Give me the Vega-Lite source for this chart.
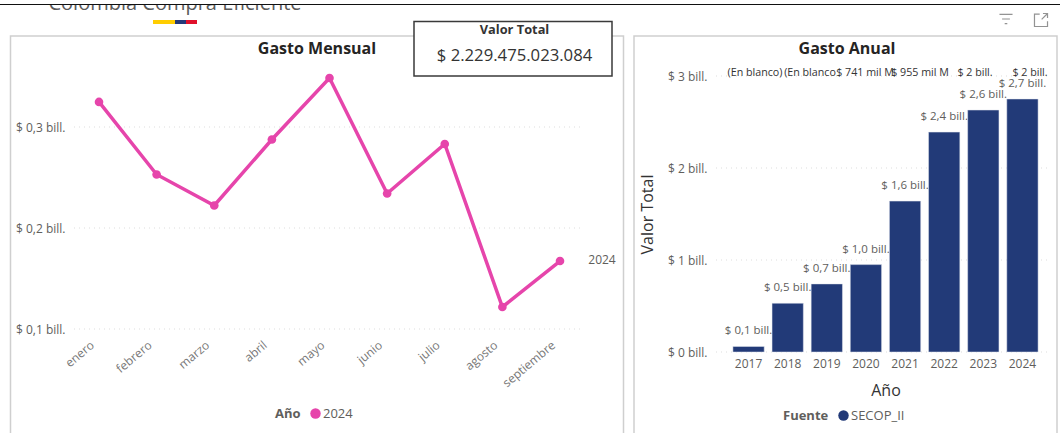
{
"$schema":"https://vega.github.io/schema/vega-lite/v6.json",
"width":1060,"height":433,"padding":0,"autosize":"none","background":"white",
"config":{"font":"Open Sans","view":{"stroke":null}},
"resolve":{"scale":{"x":"independent","y":"independent","color":"independent"},"axis":{"x":"independent","y":"independent"}},
"layer":[
{"data":{"values":[{"elemento":"Colombia Compra Eficiente"}]},
 "mark":{"type":"text","fontSize":20,"color":"#5A5A5A","align":"center","baseline":"alphabetic"},
 "encoding":{"text":{"field":"elemento"},"x":{"datum":0,"scale":{"domain":[0,1],"range":[175,1000]},"axis":null},"y":{"datum":0,"scale":{"domain":[0,1],"range":[10,100]},"axis":null}}},
{"data":{"values":[{"elemento":"franja"}]},
 "mark":{"type":"rect","fill":"white"},
 "encoding":{"x":{"datum":0,"scale":{"domain":[0,1],"range":[0,1060]},"axis":null},"x2":{"datum":1},"y":{"datum":0,"scale":{"domain":[0,1],"range":[0,4]},"axis":null},"y2":{"datum":1}}},
{"data":{"values":[{"elemento":"linea"}]},
 "mark":{"type":"rule","color":"#111111","strokeWidth":1},
 "encoding":{"x":{"datum":0,"scale":{"domain":[0,1],"range":[0,1060]},"axis":null},"x2":{"datum":1},"y":{"datum":0,"scale":{"domain":[0,1],"range":[4.5,100]},"axis":null}}},
{"data":{"values":[{"color":"amarillo","parte":2},{"color":"azul","parte":1},{"color":"rojo","parte":1}]},
 "transform":[{"stack":"parte","groupby":[],"sort":[{"field":"color"}],"as":["inicio","fin"]}],
 "mark":{"type":"rect"},
 "encoding":{"x":{"field":"inicio","type":"quantitative","scale":{"domain":[0,4],"range":[153,197]},"axis":null},"x2":{"field":"fin"},"y":{"datum":0,"scale":{"domain":[0,1],"range":[20,24]},"axis":null},"y2":{"datum":1},"color":{"field":"color","type":"nominal","scale":{"domain":["amarillo","azul","rojo"],"range":["#FFCD00","#24397A","#E0112B"]},"legend":null}}},
{"data":{"values":[{"elemento":"filtro"}]},
 "mark":{"type":"point","shape":"M-1,-0.7H1M-0.6,0H0.6M-0.2,0.7H0.2","size":170,"filled":false,"stroke":"#666666","strokeWidth":1.2},
 "encoding":{"x":{"datum":0,"scale":{"domain":[0,1],"range":[1006,1100]},"axis":null},"y":{"datum":0,"scale":{"domain":[0,1],"range":[19,100]},"axis":null}}},
{"data":{"values":[{"elemento":"expandir"}]},
 "mark":{"type":"point","shape":"M-0.2,-0.9H-1V1H1V0.2M0.1,-0.1L1,-1M0.3,-1H1V-0.3","size":170,"filled":false,"stroke":"#666666","strokeWidth":1.2},
 "encoding":{"x":{"datum":0,"scale":{"domain":[0,1],"range":[1041,1100]},"axis":null},"y":{"datum":0,"scale":{"domain":[0,1],"range":[20,100]},"axis":null}}},
{"data":{"values":[{"panel":"Gasto Mensual"}]},
 "mark":{"type":"rect","fill":null,"stroke":"#CFCFCF","strokeWidth":1.5},
 "encoding":{"x":{"datum":0,"scale":{"domain":[0,1],"range":[10.5,623.5]},"axis":null},"x2":{"datum":1},"y":{"datum":0,"scale":{"domain":[0,1],"range":[36,450]},"axis":null},"y2":{"datum":1}}},
{"data":{"values":[{"panel":"Gasto Anual"}]},
 "mark":{"type":"rect","fill":null,"stroke":"#CFCFCF","strokeWidth":1.5},
 "encoding":{"x":{"datum":0,"scale":{"domain":[0,1],"range":[634,1057]},"axis":null},"x2":{"datum":1},"y":{"datum":0,"scale":{"domain":[0,1],"range":[36,450]},"axis":null},"y2":{"datum":1}}},
{"data":{"values":[{"titulo":"Gasto Mensual"},{"titulo":"Gasto Anual"}]},
 "mark":{"type":"text","fontSize":16,"fontWeight":"bold","color":"#252423","baseline":"middle"},
 "encoding":{"text":{"field":"titulo"},"x":{"field":"titulo","type":"nominal","sort":null,"scale":{"type":"point","padding":0,"domain":["Gasto Mensual","Gasto Anual"],"range":[317,847]},"axis":null},"y":{"datum":0,"scale":{"domain":[0,1],"range":[48.5,100]},"axis":null}}},
{"data":{"values":[{"valor":0.1},{"valor":0.2},{"valor":0.3}]},
 "mark":{"type":"rule","color":"#DDDDDD","strokeDash":[1,4],"strokeWidth":1},
 "encoding":{"x":{"datum":0,"scale":{"domain":[0,1],"range":[74,583]},"axis":null},"x2":{"datum":1},
  "y":{"field":"valor","type":"quantitative","scale":{"domain":[0.1,0.3],"range":[329,127],"nice":false,"zero":false},
   "axis":{"orient":"left","offset":-69,"values":[0.1,0.2,0.3],"title":null,"domain":false,"ticks":false,"grid":false,"labelPadding":4,"labelFontSize":12,"labelColor":"#605E5C","labelExpr":"'$ ' + replace(format(datum.value,'.1f'),'.',',') + ' bill.'"}}}},
{"data":{"name":"mensual","values":[
 {"mes":"enero","anio":"2024","valor":0.3248},{"mes":"febrero","anio":"2024","valor":0.253},{"mes":"marzo","anio":"2024","valor":0.2223},
 {"mes":"abril","anio":"2024","valor":0.2876},{"mes":"mayo","anio":"2024","valor":0.3485},{"mes":"junio","anio":"2024","valor":0.2342},
 {"mes":"julio","anio":"2024","valor":0.2832},{"mes":"agosto","anio":"2024","valor":0.1218},{"mes":"septiembre","anio":"2024","valor":0.1673}]},
 "mark":{"type":"line","color":"#E645AB","strokeWidth":3.5},
 "encoding":{"x":{"field":"mes","type":"nominal","sort":null,"scale":{"type":"point","padding":0,"domain":["enero","febrero","marzo","abril","mayo","junio","julio","agosto","septiembre"],"range":[99,560]},
   "axis":{"orient":"bottom","offset":-98,"title":null,"domain":false,"ticks":false,"labelAngle":-40,"labelAlign":"right","labelBaseline":"middle","labelPadding":8,"labelOffset":-7,"labelFontSize":12,"labelColor":"#777777"}},
  "y":{"field":"valor","type":"quantitative","scale":{"domain":[0.1,0.3],"range":[329,127],"nice":false,"zero":false},"axis":null}}},
{"data":{"name":"mensual"},
 "mark":{"type":"point","filled":true,"size":75,"opacity":1},
 "encoding":{"x":{"field":"mes","type":"nominal","sort":null,"scale":{"type":"point","padding":0,"domain":["enero","febrero","marzo","abril","mayo","junio","julio","agosto","septiembre"],"range":[99,560]},"axis":null},
  "y":{"field":"valor","type":"quantitative","scale":{"domain":[0.1,0.3],"range":[329,127],"nice":false,"zero":false},"axis":null},
  "color":{"field":"anio","type":"nominal","scale":{"range":["#E645AB"]},"legend":{"orient":"none","legendX":275,"legendY":407,"direction":"horizontal","titleOrient":"left","title":"Año","titleFontSize":13,"titleFontWeight":"bold","titleColor":"#605E5C","labelFontSize":13,"labelColor":"#605E5C","symbolType":"circle","symbolSize":110,"symbolStrokeWidth":0,"labelOffset":1,"titlePadding":8}}}},
{"data":{"name":"mensual"},
 "transform":[{"filter":"datum.mes === 'septiembre'"}],
 "mark":{"type":"text","dx":42,"fontSize":12,"color":"#605E5C","baseline":"middle","dy":-1},
 "encoding":{"text":{"field":"anio"},"x":{"field":"mes","type":"nominal","sort":null,"scale":{"type":"point","padding":0,"domain":["enero","febrero","marzo","abril","mayo","junio","julio","agosto","septiembre"],"range":[99,560]},"axis":null},
  "y":{"field":"valor","type":"quantitative","scale":{"domain":[0.1,0.3],"range":[329,127],"nice":false,"zero":false},"axis":null}}},
{"data":{"values":[{"tarjeta":"Valor Total"}]},
 "mark":{"type":"rect","fill":"white","stroke":"#3A3A3A","strokeWidth":1.5},
 "encoding":{"x":{"datum":0,"scale":{"domain":[0,1],"range":[414,612]},"axis":null},"x2":{"datum":1},"y":{"datum":0,"scale":{"domain":[0,1],"range":[21.5,76]},"axis":null},"y2":{"datum":1}}},
{"data":{"values":[{"tarjeta":"Valor Total"}]},
 "mark":{"type":"text","fontSize":12.8,"fontWeight":"bold","color":"#333333","baseline":"middle"},
 "encoding":{"text":{"field":"tarjeta"},"x":{"datum":0,"scale":{"domain":[0,1],"range":[514.5,1000]},"axis":null},"y":{"datum":0,"scale":{"domain":[0,1],"range":[30,100]},"axis":null}}},
{"data":{"values":[{"total":"$ 2.229.475.023.084"}]},
 "mark":{"type":"text","fontSize":16.7,"color":"#333333","baseline":"middle"},
 "encoding":{"text":{"field":"total"},"x":{"datum":0,"scale":{"domain":[0,1],"range":[514.5,1000]},"axis":null},"y":{"datum":0,"scale":{"domain":[0,1],"range":[56,100]},"axis":null}}},
{"data":{"values":[{"valor":0},{"valor":1},{"valor":2},{"valor":3}]},
 "mark":{"type":"rule","color":"#DDDDDD","strokeDash":[1,4],"strokeWidth":1},
 "encoding":{"x":{"datum":0,"scale":{"domain":[0,1],"range":[716,1051]},"axis":null},"x2":{"datum":1},
  "y":{"field":"valor","type":"quantitative","scale":{"domain":[0,3],"range":[352,76],"nice":false},
   "axis":{"orient":"left","offset":-712,"values":[0,1,2,3],"title":"Valor Total","titleFontSize":16,"titleFontWeight":"normal","titleColor":"#333333","titlePadding":12,"domain":false,"ticks":false,"grid":false,"labelPadding":5,"labelFontSize":12,"labelColor":"#605E5C","labelExpr":"'$ ' + format(datum.value,'d') + ' bill.'"}}}},
{"data":{"name":"anual","values":[
 {"anio":"2017","fuente":"SECOP_II","valor":0.06,"etiqueta":"$ 0,1 bill."},{"anio":"2018","fuente":"SECOP_II","valor":0.53,"etiqueta":"$ 0,5 bill."},
 {"anio":"2019","fuente":"SECOP_II","valor":0.74,"etiqueta":"$ 0,7 bill."},{"anio":"2020","fuente":"SECOP_II","valor":0.95,"etiqueta":"$ 1,0 bill."},
 {"anio":"2021","fuente":"SECOP_II","valor":1.64,"etiqueta":"$ 1,6 bill."},{"anio":"2022","fuente":"SECOP_II","valor":2.39,"etiqueta":"$ 2,4 bill."},
 {"anio":"2023","fuente":"SECOP_II","valor":2.63,"etiqueta":"$ 2,6 bill."},{"anio":"2024","fuente":"SECOP_II","valor":2.75,"etiqueta":"$ 2,7 bill."}]},
 "mark":{"type":"text","fontSize":11.5,"color":"#605E5C","baseline":"middle","dy":-15},
 "encoding":{"text":{"field":"etiqueta"},"x":{"field":"anio","type":"nominal","scale":{"type":"band","range":[729,1042],"paddingInner":0.2,"paddingOuter":0.1},"axis":null},
  "y":{"field":"valor","type":"quantitative","scale":{"domain":[0,3],"range":[352,76],"nice":false},"axis":null}}},
{"data":{"name":"anual"},
 "mark":{"type":"bar","stroke":"#E3E6EE","strokeWidth":0.5},
 "encoding":{"x":{"field":"anio","type":"nominal","scale":{"type":"band","range":[729,1042],"paddingInner":0.2,"paddingOuter":0.1},
   "axis":{"orient":"bottom","offset":-81,"title":"Año","titleFontSize":16,"titleFontWeight":"normal","titleColor":"#333333","titlePadding":13,"domain":false,"ticks":false,"labelAngle":0,"labelPadding":6,"labelFontSize":12,"labelColor":"#605E5C"}},
  "y":{"field":"valor","type":"quantitative","scale":{"domain":[0,3],"range":[352,76],"nice":false},"axis":null},
  "color":{"field":"fuente","type":"nominal","scale":{"range":["#223A78"]},"legend":{"orient":"none","legendX":783,"legendY":409,"direction":"horizontal","titleOrient":"left","title":"Fuente","titleFontSize":13,"titleFontWeight":"bold","titleColor":"#605E5C","labelFontSize":13,"labelColor":"#605E5C","symbolType":"circle","symbolSize":110,"symbolStrokeWidth":0,"labelOffset":1,"titlePadding":8}}}},
{"data":{"values":[{"orden":"1","etiqueta":"(En blanco)"},{"orden":"2","etiqueta":"(En blanco"},{"orden":"3","etiqueta":"$ 741 mil M"},{"orden":"4","etiqueta":"$ 955 mil M"},{"orden":"5","etiqueta":"$ 2 bill."},{"orden":"6","etiqueta":"$ 2 bill."}]},
 "mark":{"type":"text","fontSize":10.7,"color":"#333333","baseline":"middle"},
 "encoding":{"text":{"field":"etiqueta"},"x":{"field":"orden","type":"nominal","scale":{"type":"point","padding":0,"range":[755,1030]},"axis":null},
  "y":{"datum":3.035,"scale":{"domain":[0,3],"range":[352,76],"nice":false},"axis":null}}}
]}
